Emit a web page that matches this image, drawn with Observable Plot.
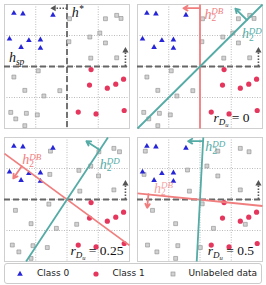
<!DOCTYPE html>
<html><head><meta charset="utf-8">
<script src="https://cdn.jsdelivr.net/npm/d3@7"></script>
<script src="https://cdn.jsdelivr.net/npm/@observablehq/plot@0.6"></script>
<style>
body{margin:0;background:#fff;}
#wrap{position:relative;width:266px;height:285px;overflow:hidden;font-family:"DejaVu Sans",sans-serif;}
.panel{position:absolute;}
#legend{position:absolute;left:4px;top:263px;width:256px;height:19px;border:1px solid #ccc;border-radius:3px;box-sizing:content-box;}
.li{position:absolute;top:0;height:19px;line-height:19px;font-size:9px;color:#222;white-space:nowrap;}
.ls{position:absolute;top:4px;}
</style></head><body><div id="wrap"></div><script>
// ---- labeled data (same in all panels) ----
const class0X=[0.30,0.59,1.55,0.16,0.78,1.15,0.53,1.15];
const class0Y=[3.72,3.70,3.66,2.89,2.84,2.86,2.62,2.59];
const class1X=[2.77,2.72,3.29,3.56,3.81,2.36,2.93,3.83];
const class1Y=[1.90,1.40,1.30,1.43,1.59,0.53,0.47,0.58];
// ---- unlabeled data per panel ----
const unlabA_X=[2.08,3.23,3.59,3.73,3.05,2.73,3.23,2.06,2.76,3.59,1.08,0.30,0.65,1.77,1.26,0.20,0.36,0.70,1.05,0.65];
const unlabA_Y=[3.54,3.54,3.65,3.55,3.08,2.95,2.76,2.80,2.27,2.28,1.86,1.66,1.23,1.22,1.05,0.52,0.31,0.49,0.44,0.09];
const unlabB_X=[1.47,3.02,3.50,3.68,2.38,2.76,1.45,3.01,2.41,3.50,0.35,1.42,0.85,1.66,2.31,0.25,0.46,0.91,1.37,0.85];
const unlabB_Y=[3.56,3.54,3.65,3.54,2.94,3.08,2.81,2.76,2.27,2.31,1.65,1.85,1.22,1.07,1.20,0.53,0.31,0.51,0.45,0.10];
const unlabC_X=[0.25,2.57,3.29,3.57,2.22,1.60,0.21,2.57,1.66,3.29,0.48,2.07,1.22,2.43,3.45,0.32,0.62,1.29,2.01,1.22];
const unlabC_Y=[3.56,3.56,3.65,3.54,3.08,2.95,2.81,2.76,2.27,2.31,1.65,1.86,1.22,1.07,1.20,0.53,0.31,0.51,0.45,0.10];
const unlabXs=[unlabA_X,unlabA_X,unlabB_X,unlabC_X];
const unlabYs=[unlabA_Y,unlabA_Y,unlabB_Y,unlabC_Y];
// ---- reference hyperplanes ----
const gridTicks=[1,2,3];
const hStarX=2, hSpY=2;
const starArrow=[2,3.88,1.55,3.88];
const spArrow=[3.87,2.02,3.87,2.55];
// ---- learned hyperplanes [x1,y1,x2,y2] per panel ----
const dbLine=[null,[2,0,2,4],[0,3.48,4,0.52],[0,2.2,4,1.79]];
const ddLine=[null,[0,0,4,4],[0.69,0,3.31,4],[1.895,0,2.105,4]];
const dbArrow=[null,[2,3.88,1.47,3.88],[0.55,3.07,0.28,2.68],[0.35,2.17,0.31,1.73]];
const ddArrow=[null,[3.5,3.5,3.13,3.87],[3.05,3.6,2.62,3.88],[2.09,3.88,1.62,3.88]];
const dbLabelPos=[null,[2.14,3.54],[0.57,3.14],[0.53,2.22]];
const ddLabelPos=[null,[3.34,2.91],[3.05,3.0],[2.17,3.56]];
const rValues=[null,"0","0.25","0.5"];
const rLabelPos=[null,[2.43,0.2],[2.11,0.2],[2.25,0.2]];
const legendLabels=["Class 0","Class 1","Unlabeled data"];

const colDB="#f07e7e", colDD="#55aba6", colBlue="#2626d8", colRed="#e5375d", colDash="#666";
const origins=[[0,0],[133,0],[0,133],[133,133]];

const seg={x1:d=>d[0],y1:d=>d[1],x2:d=>d[2],y2:d=>d[3]};
const idx=n=>d3.range(n);

function mathSpec(key){
  if(key==="hstar") return [["h",14,0,0,"italic"],["*",9.5,-5.5,0.5,"normal"]];
  if(key==="hsp") return [["h",14,0,0,"italic"],["sp",9.5,3,0,"italic"]];
  if(key==="hDB"||key==="hDD") return [["h",14,0,0,"italic"],["2",9.5,2.5,0,"normal"],[key.slice(1),9,-7,-4.8,"italic"]];
  if(key.startsWith("r:")) return [["r",13.5,0,0,"italic"],["D",9,3,0,"italic"],["u",6.5,1.5,0,"italic"],[" = "+key.slice(2),13.5,-4.5,0,"normal"]];
  return null;
}
function mathify(svg){
  svg.querySelectorAll("text").forEach(t=>{
    const spec=mathSpec(t.textContent);
    if(!spec) return;
    t.textContent="";
    for(const [s,size,dy,dx,style] of spec){
      const ts=document.createElementNS("http://www.w3.org/2000/svg","tspan");
      ts.textContent=s;
      ts.setAttribute("font-size",size);
      ts.setAttribute("font-style",style);
      if(dy) ts.setAttribute("dy",dy);
      if(dx) ts.setAttribute("dx",dx);
      t.appendChild(ts);
    }
  });
}
const textOpts={textAnchor:"start",lineAnchor:"bottom",fontFamily:"Liberation Serif",fontSize:13};

// dotted shaft + solid triangular head pointing along the arrow
function dottedArrow(a){
  const ang=Math.atan2(a[2]-a[0],a[3]-a[1])*180/Math.PI;
  const k=0.12; // shaft stops a little before the tip
  const shaft=[a[0],a[1],a[2]-(a[2]-a[0])*k,a[3]-(a[3]-a[1])*k];
  const head=[a[2]-(a[2]-a[0])*0.07,a[3]-(a[3]-a[1])*0.07];
  return [
    Plot.link([shaft],{...seg,stroke:"#555",strokeWidth:1.6,strokeDasharray:"1.5,1.5"}),
    Plot.dot([head],{x:d=>d[0],y:d=>d[1],symbol:"triangle",r:2.3,fill:"#555",rotate:ang})
  ];
}

function makePanel(p){
  const marks=[
    Plot.ruleX(gridTicks,{stroke:"#aaa",strokeWidth:0.8,strokeDasharray:"1,1.5"}),
    Plot.ruleY(gridTicks,{stroke:"#aaa",strokeWidth:0.8,strokeDasharray:"1,1.5"}),
    Plot.frame({stroke:"#cfcfcf",strokeWidth:1})
  ];
  if(p===0) marks.push(Plot.ruleX([hStarX],{stroke:colDash,strokeWidth:1.8,strokeDasharray:"6,3"}));
  marks.push(Plot.ruleY([hSpY],{stroke:colDash,strokeWidth:1.8,strokeDasharray:"6,3"}));
  marks.push(...dottedArrow(spArrow));
  if(p===0) marks.push(...dottedArrow(starArrow));
  const UX=unlabXs[p], UY=unlabYs[p];
  marks.push(Plot.dot(idx(UX.length),{x:i=>UX[i],y:i=>UY[i],symbol:"square",r:2.2,fill:"#d2d2d2",stroke:"#8c8c8c",strokeWidth:0.6}));
  marks.push(Plot.dot(idx(class0X.length),{x:i=>class0X[i],y:i=>class0Y[i],symbol:"triangle",r:2.1,fill:colBlue}));
  marks.push(Plot.dot(idx(class1X.length),{x:i=>class1X[i],y:i=>class1Y[i],symbol:"circle",r:2.6,fill:colRed}));
  if(p>0){
    marks.push(Plot.link([dbLine[p]],{...seg,stroke:colDB,strokeWidth:1.8}));
    marks.push(Plot.link([ddLine[p]],{...seg,stroke:colDD,strokeWidth:1.8}));
    marks.push(Plot.arrow([dbArrow[p]],{...seg,stroke:colDB,strokeWidth:1.8,headLength:4}));
    marks.push(Plot.arrow([ddArrow[p]],{...seg,stroke:colDD,strokeWidth:1.8,headLength:4}));
    marks.push(Plot.text(["hDB"],{...textOpts,x:()=>dbLabelPos[p][0],y:()=>dbLabelPos[p][1],text:d=>d,fill:colDB,fillOpacity:p===3?0.75:1}));
    marks.push(Plot.text(["hDD"],{...textOpts,x:()=>ddLabelPos[p][0],y:()=>ddLabelPos[p][1],text:d=>d,fill:colDD}));
    marks.push(Plot.text(["r:"+rValues[p]],{...textOpts,x:()=>rLabelPos[p][0],y:()=>rLabelPos[p][1],text:d=>d,fill:"#111"}));
  } else {
    marks.push(Plot.text(["hstar"],{...textOpts,x:()=>2.15,y:()=>3.59,text:d=>d,fill:"#111"}));
    marks.push(Plot.text(["hsp"],{...textOpts,x:()=>0.14,y:()=>2.14,text:d=>d,fill:"#111"}));
  }
  const svg=Plot.plot({
    width:133,height:132,marginTop:4,marginBottom:4,marginLeft:4,marginRight:4,
    x:{domain:[0,4],axis:null},y:{domain:[0,4],axis:null},
    style:{background:"transparent",overflow:"visible"},
    marks
  });
  mathify(svg);
  svg.classList.add("panel");
  svg.style.left=origins[p][0]+"px";
  svg.style.top=origins[p][1]+"px";
  return svg;
}
const wrap=document.getElementById("wrap");
for(let p=0;p<4;p++) wrap.appendChild(makePanel(p));

// legend
const legend=d3.select(wrap).append("div").attr("id","legend");
const symX=[15,91,167.5], txtX=[32,107.5,183.5];
const symDraw=[
  s=>s.append("path").attr("d",d3.symbol(d3.symbolTriangle,14)()).attr("fill",colBlue),
  s=>s.append("circle").attr("r",2.6).attr("fill",colRed),
  s=>s.append("rect").attr("x",-2).attr("y",-2).attr("width",4).attr("height",4).attr("fill","#d2d2d2").attr("stroke","#8c8c8c").attr("stroke-width",0.6)
];
legendLabels.forEach((lab,i)=>{
  const s=legend.append("svg").attr("class","ls").attr("width",12).attr("height",12)
    .style("left",(symX[i]-6)+"px").style("top","4px")
    .append("g").attr("transform","translate(6,6)");
  symDraw[i](s);
  legend.append("div").attr("class","li").style("left",txtX[i]+"px").text(lab);
});
</script></body></html>
